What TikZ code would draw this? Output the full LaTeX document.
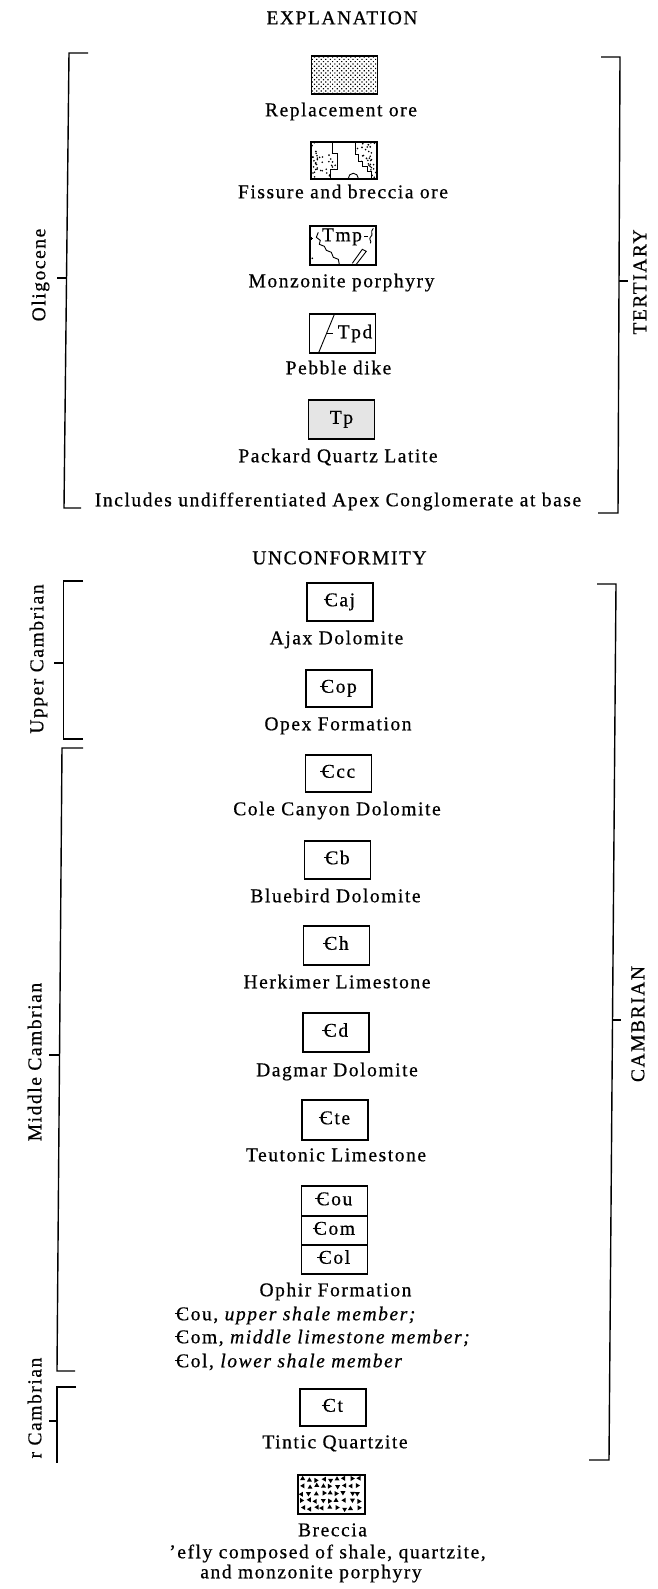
\documentclass[tikz,border=0pt]{standalone}
\usepackage{fontspec}
\setmainfont{Liberation Serif}[LetterSpace=8, FakeBold=0.6]
\usetikzlibrary{patterns.meta}
\newcommand\cbC{\leavevmode\rlap{\kern-0.07em\rule[0.30em]{0.42em}{0.07em}}C}
\tikzset{
  lbl/.style={font=\fontsize{19.5}{21}\selectfont, inner sep=0pt, text height=13pt, text depth=4.5pt},
  vlbl/.style={lbl, rotate=90},
  unit/.style={draw, line width=1.4pt, minimum width=66pt, minimum height=38pt, inner sep=0pt,
    font=\fontsize{19.5}{21}\selectfont, text height=13pt, text depth=4.5pt},
  brk/.style={line width=1.4pt},
  thin/.style={line width=0.9pt},
}
\begin{document}
\begin{tikzpicture}[x=1pt,y=-1pt]
\useasboundingbox (0,0) rectangle (657,1589);

% ---------- headings and labels ----------
\node[lbl] (expl) at (342,20) {EXPLANATION};
\node[lbl] (lrep) at (341,112) {Replacement ore};
\node[lbl] (lfis) at (343,194) {Fissure and breccia ore};
\node[lbl] (ltmp) at (341.5,283) {Monzonite porphyry};
\node[lbl] (ltpd) at (338.5,370) {Pebble dike};
\node[lbl] (ltp) at (338,458) {Packard Quartz Latite};
\node[lbl] (lapex) at (338,502) {Includes undifferentiated Apex Conglomerate at base};
\node[lbl] (unconf) at (339.5,560) {UNCONFORMITY};
\node[lbl] (lcaj) at (336.5,640) {Ajax Dolomite};
\node[lbl] (lcop) at (338,726) {Opex Formation};
\node[lbl] (lccc) at (337,811) {Cole Canyon Dolomite};
\node[lbl] (lcb) at (335.5,898) {Bluebird Dolomite};
\node[lbl] (lch) at (337,984) {Herkimer Limestone};
\node[lbl] (lcd) at (337,1072) {Dagmar Dolomite};
\node[lbl] (lcte) at (336,1157) {Teutonic Limestone};
\node[lbl] (lop) at (335.5,1292) {Ophir Formation};
\node[lbl, anchor=west] (m1) at (176,1316) {\cbC ou, \textit{upper shale member;}};
\node[lbl, anchor=west] (m2) at (176,1339) {\cbC om, \textit{middle limestone member;}};
\node[lbl, anchor=west] (m3) at (176,1363) {\cbC ol, \textit{lower shale member}};
\node[lbl] (lct) at (335,1444) {Tintic Quartzite};
\node[lbl] (lbr) at (332.5,1532) {Breccia};
\node[lbl] (lbr2) at (327.5,1554) {'efly composed of shale, quartzite,};
\node[lbl] (lbr3) at (311,1574) {and monzonite porphyry};

% ---------- side labels ----------
\node[vlbl] (olig) at (41,275) {Oligocene};
\node[vlbl] (tert) at (642,282) {TERTIARY};
\node[vlbl] (upc) at (39,659) {Upper Cambrian};
\node[vlbl] (midc) at (37,1062) {Middle Cambrian};
\node[vlbl] (lowc) at (37,1408) {r Cambrian};
\node[vlbl] (camb) at (640,1024) {CAMBRIAN};

% ---------- brackets ----------
\draw[brk] (88,53) -- (69,53) -- (64,508) -- (81,508);
\draw[brk] (57,278) -- (66.5,278);
\draw[brk] (601,57) -- (620,57) -- (618,513) -- (598,513);
\draw[brk] (619,281) -- (628,281);
\draw[brk] (83,581) -- (63.5,581) -- (63.5,739) -- (83,739);
\draw[brk] (54,663) -- (63.5,663);
\draw[brk] (83,748) -- (62,748) -- (57,1371) -- (75,1371);
\draw[brk] (49,1055) -- (59.5,1055);
\draw[brk] (76,1387) -- (57,1387) -- (57,1463);
\draw[brk] (49,1421) -- (57,1421);
\draw[brk] (597,584) -- (616,584) -- (609,1460) -- (589,1460);
\draw[brk] (612.5,1020) -- (621,1020);

% ---------- unit boxes ----------
\node[unit, pattern={Dots[distance=3.2pt, radius=0.85pt, angle=45]}] (rep) at (344.5,75) {};
\node[unit, minimum height=37pt] (fis) at (344,160.5) {};
\node[unit, minimum height=39pt] (tmp) at (343,245.5) {};
\node[unit, minimum height=39pt] (tpd) at (342.5,333.5) {};
\node[unit, minimum height=39pt, fill=black!10] (tp) at (341.5,419.5) {Tp};
\node[unit] (caj) at (340,602) {\cbC aj};
\node[unit, minimum height=37pt] (cop) at (339,688.5) {\cbC op};
\node[unit, minimum height=37pt] (ccc) at (338.5,773.5) {\cbC cc};
\node[unit] (cb) at (337.5,860) {\cbC b};
\node[unit, minimum height=39pt] (ch) at (336.5,945.5) {\cbC h};
\node[unit, minimum height=39pt] (cd) at (336,1032.5) {\cbC d};
\node[unit, minimum height=40pt] (cte) at (335,1120) {\cbC te};
\node[unit, minimum height=30pt] (cou) at (334.5,1201) {\cbC ou};
\node[unit, minimum height=29pt] (com) at (334.5,1230.5) {\cbC om};
\node[unit, minimum height=29pt] (col) at (334.5,1259.5) {\cbC ol};
\node[unit, minimum height=37pt] (ct) at (333,1407.5) {\cbC t};
\node[unit, minimum height=39pt] (brec) at (331.5,1494.5) {};

% ---------- fissure and breccia ore symbol ----------
\begin{scope}[shift={(fis.north west)}]
  \begin{scope}
    \clip (0,0) -- (22,0) -- (22,12) -- (27,12) -- (27,28) -- (20,28) -- (20,37) -- (0,37) -- cycle
          (45,0) -- (66,0) -- (66,37) -- (61,37) -- (61,30) -- (57,30) -- (57,25) -- (52,25) -- (52,20) -- (48,20) -- (48,13) -- (45,13) -- cycle
          (38,37) arc (180:360:5) -- cycle;
    \pgfmathsetseed{3}
    \foreach \i in {1,...,130} {
      \pgfmathsetmacro\px{rnd*66}
      \pgfmathsetmacro\py{rnd*37}
      \fill (\px,\py) circle (0.9);
    }
  \end{scope}
  \draw[thin] (22,0) -- (22,12) -- (27,12) -- (27,28) -- (20,28) -- (20,37);
  \draw[thin] (45,0) -- (45,13) -- (48,13) -- (48,20) -- (52,20) -- (52,25) -- (57,25) -- (57,30) -- (61,30) -- (61,37);
  \draw[thin] (38,37) arc (180:360:5);
\end{scope}

% ---------- monzonite porphyry symbol ----------
\node[font=\fontsize{19.5}{21}\selectfont, inner sep=0pt, text height=13pt, text depth=4.5pt] (tmptxt) at (342,237) {Tmp};
\begin{scope}[shift={(tmp.north west)}]
  \draw[thin] (9,7) -- (7,12) -- (11,15) -- (10,19) -- (15,21) -- (17,25) -- (22,27) -- (24,32) -- (29,34) -- (30,39);
  \draw[thin] (55,11) -- (59,11);
  \draw[thin] (64,3) .. controls (60,7) and (65,9) .. (61,12) .. controls (59,14) and (63,16) .. (61,18);
  \draw[thin] (43,38) -- (53,24) -- (57,26) -- (47,39);
  \draw[thin] (1,13) -- (4,13) (2.5,11.5) -- (2.5,14.5);
  \fill (3,33) circle (0.9);
\end{scope}

% ---------- pebble dike symbol ----------
\begin{scope}[shift={(tpd.north west)}]
  \draw[thin] (10,39) -- (26,0);
  \draw[thin] (18,20) -- (24,20);
\end{scope}
\node[font=\fontsize{19.5}{21}\selectfont, inner sep=0pt, text height=13pt, text depth=4.5pt] (tpdtxt) at (355,334) {Tpd};

% ---------- breccia symbol ----------
\begin{scope}
  \clip (brec.north west) rectangle (brec.south east);
  \begin{scope}[shift={(brec.north west)}]
    \pgfmathsetseed{42}
    \foreach \r in {0,...,4} {
      \foreach \c in {0,...,8} {
        \pgfmathsetmacro\jx{rand*1.5}
        \pgfmathsetmacro\jy{rand*1.2}
        \pgfmathsetmacro\ang{90*int(4*rnd)}
        \fill[shift={(4.5+7*\c+\jx, 5+7.2*\r+\jy)}, rotate=\ang] (0,-2.8) -- (2.5,1.4) -- (-2.5,1.4) -- cycle;
      }
    }
  \end{scope}
\end{scope}
\draw[line width=1.4pt] (brec.north west) rectangle (brec.south east);

\end{tikzpicture}
\end{document}
